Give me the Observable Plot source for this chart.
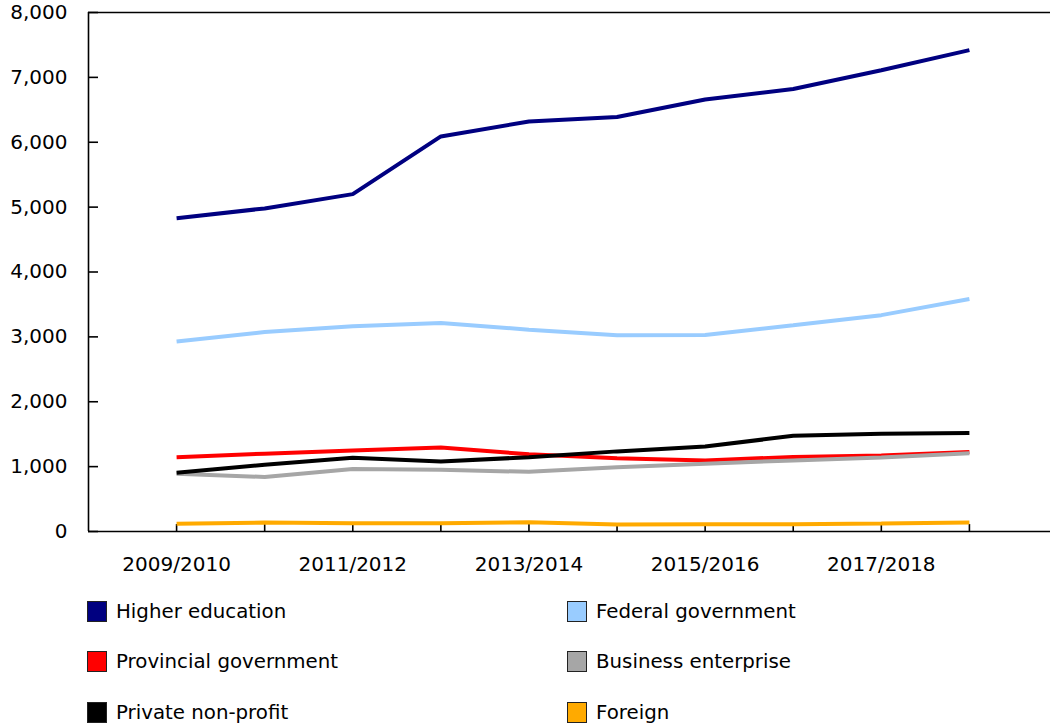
<!DOCTYPE html>
<html>
<head>
<meta charset="utf-8">
<script src="https://cdn.jsdelivr.net/npm/d3@7"></script>
<script src="https://cdn.jsdelivr.net/npm/@observablehq/plot@0.6"></script>
<style>
  body { margin: 0; background: #fff; font-family: "DejaVu Sans", Verdana, sans-serif; }
  #chart { position: relative; width: 1050px; }
  #legend { position: relative; width: 1050px; height: 141px; font-size: 19.8px; color: #000; }
  .item { position: absolute; display: flex; align-items: center; height: 24px; }
  .sw { width: 18px; height: 19px; border: 1.5px solid #222; box-sizing: content-box; margin-right: 9px; }
</style>
</head>
<body>
<div id="chart"></div>
<div id="legend"></div>
<script>
const years = ["2009/2010","2010/2011","2011/2012","2012/2013","2013/2014","2014/2015","2015/2016","2016/2017","2017/2018","2018/2019"];
const seriesNames = ["Higher education","Federal government","Provincial government","Business enterprise","Private non-profit","Foreign"];
const higherEducation     = [4830, 4980, 5200, 6090, 6320, 6390, 6660, 6820, 7110, 7420];
const federalGovernment   = [2930, 3075, 3165, 3215, 3110, 3025, 3030, 3180, 3335, 3585];
const provincialGovernment= [1145, 1200, 1250, 1295, 1190, 1130, 1095, 1150, 1170, 1225];
const businessEnterprise  = [ 890,  840,  965,  950,  920,  990, 1045, 1095, 1140, 1205];
const privateNonProfit    = [ 905, 1030, 1135, 1080, 1145, 1235, 1310, 1475, 1505, 1520];
const foreign             = [ 118,  138,  128,  128,  142,  108,  113,  113,  122,  138];
const colors = ["#000080","#99ccff","#ff0000","#a6a6a6","#000000","#ffaa00"];
const yTicks = [0,1000,2000,3000,4000,5000,6000,7000,8000];
const legendLabels = ["Higher education","Federal government","Provincial government","Business enterprise","Private non-profit","Foreign"];
const legendColors = ["#000080","#99ccff","#ff0000","#a6a6a6","#000000","#ffaa00"];

const values = [higherEducation, federalGovernment, provincialGovernment, businessEnterprise, privateNonProfit, foreign];
const rows = [];
seriesNames.forEach((s, si) => values[si].forEach((v, i) => rows.push({series: s, idx: i, year: years[i], value: v})));

const fmt = d3.format(",");
const chart = Plot.plot({
  width: 1050,
  height: 585,
  marginLeft: 88,
  marginRight: 0,
  marginTop: 12,
  marginBottom: 54,
  style: {fontFamily: '"DejaVu Sans", Verdana, sans-serif', fontSize: "20px", color: "#000", background: "#fff"},
  x: {domain: [-1, 10], range: [88, 1057], label: null},
  y: {domain: [0, 8000], label: null},
  color: {domain: seriesNames, range: colors},
  marks: [
    Plot.ruleY([0, 8000], {stroke: "#000", strokeWidth: 1.6}),
    Plot.ruleX([-1], {stroke: "#000", strokeWidth: 1.6}),
    Plot.axisY(yTicks, {tickSize: -10, tickPadding: 31, tickFormat: fmt, stroke: "#000", strokeWidth: 1.6, fill: "#000", label: null}),
    Plot.axisX(d3.range(years.length), {tickSize: -7, tickPadding: 32, tickFormat: i => (i % 2 === 0 ? years[i] : ""), stroke: "#000", strokeWidth: 1.6, fill: "#000", label: null}),
    Plot.line(rows, {x: "idx", y: "value", z: "series", stroke: "series", strokeWidth: 4, strokeLinejoin: "miter", strokeLinecap: "butt"})
  ]
});
document.getElementById("chart").appendChild(chart);

const legend = document.getElementById("legend");
const centers = [26, 76, 127];
legendLabels.forEach((lab, i) => {
  const row = Math.floor(i / 2), col = i % 2;
  const el = document.createElement("div");
  el.className = "item";
  el.style.left = (col === 0 ? 87 : 567) + "px";
  el.style.top = (centers[row] - 12) + "px";
  const sw = document.createElement("div");
  sw.className = "sw";
  sw.style.background = legendColors[i];
  const t = document.createElement("span");
  t.textContent = lab;
  el.appendChild(sw); el.appendChild(t);
  legend.appendChild(el);
});
</script>
</body>
</html>
